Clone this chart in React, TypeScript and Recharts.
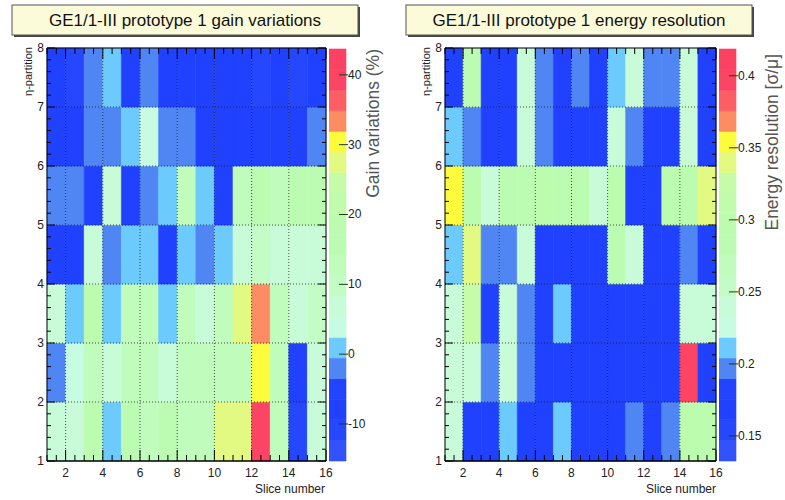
import React from "react";
import {
  ComposedChart,
  Scatter,
  XAxis,
  YAxis,
  ReferenceArea,
  ReferenceLine,
} from "recharts";

// slice numbers (x) and eta partitions (y), each cell spans [n, n+1]
const SLICES = [1, 2, 3, 4, 5, 6, 7, 8, 9, 10, 11, 12, 13, 14, 15];
const ETA = [1, 2, 3, 4, 5, 6, 7];

// gain variations (%), one array per eta partition, slices 1..15
const gainEta1 = [6, 7, 18, 1, 15, 14, 15, 14, 13, 27, 27.5, 40, 13, -10, 7];
const gainEta2 = [-2, 5, 12, 6, 13, 14, 6, 13, 14, 13, 14, 30.5, 12, -9, 6];
const gainEta3 = [6, 1, 18, 1, 14, 14, 1, 12, 6, 12, 27, 33, 13, 7, 11];
const gainEta4 = [-8, -9, 6, -2, 1, 1, -8, 1, -2, 1, 6, 10, 7, 6, 6];
const gainEta5 = [-2, -2, -8, 6, -8, -2, 1, 12, 1, -7, 14, 15, 14, 15, 16];
const gainEta6 = [-8, -9, -2, -3, 1, 5, -2, -2, -7, -8, -8, -9, -9, -8, -2];
const gainEta7 = [-9, -10, -2, 1, -8, -2, -8, -9, -8, -9, -9, -10, -9, -10, -9];

// energy resolution (sigma/mu), same layout
const resEta1 = [0.245, 0.17, 0.168, 0.21, 0.17, 0.17, 0.21, 0.17, 0.17, 0.172, 0.197, 0.17, 0.197, 0.29, 0.29];
const resEta2 = [0.235, 0.24, 0.197, 0.24, 0.197, 0.17, 0.168, 0.17, 0.17, 0.17, 0.172, 0.17, 0.17, 0.4, 0.17];
const resEta3 = [0.235, 0.32, 0.17, 0.238, 0.197, 0.17, 0.21, 0.17, 0.168, 0.17, 0.17, 0.172, 0.17, 0.235, 0.235];
const resEta4 = [0.21, 0.34, 0.197, 0.198, 0.235, 0.17, 0.17, 0.172, 0.17, 0.28, 0.24, 0.17, 0.17, 0.196, 0.172];
const resEta5 = [0.355, 0.29, 0.245, 0.28, 0.285, 0.29, 0.28, 0.29, 0.245, 0.3, 0.17, 0.172, 0.29, 0.3, 0.34];
const resEta6 = [0.21, 0.197, 0.17, 0.172, 0.238, 0.196, 0.17, 0.172, 0.17, 0.24, 0.197, 0.17, 0.17, 0.24, 0.172];
const resEta7 = [0.17, 0.28, 0.17, 0.175, 0.235, 0.197, 0.172, 0.196, 0.17, 0.21, 0.24, 0.196, 0.197, 0.238, 0.17];

const GAIN_ROWS = [gainEta1, gainEta2, gainEta3, gainEta4, gainEta5, gainEta6, gainEta7];
const RES_ROWS = [resEta1, resEta2, resEta3, resEta4, resEta5, resEta6, resEta7];

// axis ticks
const X_MINOR = [1, 1.5, 2, 2.5, 3, 3.5, 4, 4.5, 5, 5.5, 6, 6.5, 7, 7.5, 8, 8.5, 9, 9.5, 10, 10.5, 11, 11.5, 12, 12.5, 13, 13.5, 14, 14.5, 15, 15.5, 16];
const X_GRID = [2, 4, 6, 8, 10, 12, 14];
const Y_GRID = [2, 3, 4, 5, 6, 7];
const GAIN_TICKS = [-10, 0, 10, 20, 30, 40];
const RES_TICKS = [0.15, 0.2, 0.25, 0.3, 0.35, 0.4];

// z ranges of the two palettes
const GAIN_RANGE = [-15.3, 43.7];
const RES_RANGE = [0.1326, 0.4186];

// 20 contour colours, low -> high
const PALETTE = [
  "#3352ff", "#2548ff", "#2042ff", "#2244fe",
  "#4f86f4", "#6ccbfc",
  "#c6fce2", "#c8fcd8",
  "#c4fcc6", "#c0fcbc", "#bcfcb2", "#bcfcae", "#c0fcac", "#c6fca8",
  "#e2fa82", "#fcfc3c", "#fc8c62", "#fc5e64", "#fc4464", "#fc4262",
];

const FONT = "'Liberation Sans', Arial, Helvetica, sans-serif";
const PLOT_H = 413;

function colorOf(v: number, range: number[]) {
  const i = Math.floor(((v - range[0]) / (range[1] - range[0])) * 20);
  return PALETTE[Math.max(0, Math.min(19, i))];
}

function yMinorTicks() {
  const t: number[] = [];
  for (let i = 0; i <= 35; i++) t.push(Math.round((1 + i * 0.2) * 10) / 10);
  return t;
}

function HeatMap({ rows, range, width }: { rows: number[][]; range: number[]; width: number }) {
  const plotW = width - 47 - 14;
  const cells = rows.flatMap((row, r) =>
    row.map((v, s) => ({ x: SLICES[s], y: ETA[r], v }))
  );

  const XTick = (p: any) => {
    const v = p.payload.value;
    const major = v % 2 === 0;
    const len = major ? 11 : 6;
    return (
      <g>
        <line x1={p.x} y1={p.y} x2={p.x} y2={p.y - len} stroke="#000" />
        <line x1={p.x} y1={p.y - PLOT_H} x2={p.x} y2={p.y - PLOT_H + len} stroke="#000" />
        {major && (
          <text x={p.x} y={p.y + 16} textAnchor="middle" fontSize={12} fill="#222" fontFamily={FONT}>
            {v}
          </text>
        )}
      </g>
    );
  };

  const YTick = (p: any) => {
    const v = p.payload.value;
    const major = Number.isInteger(v);
    const len = major ? 8 : 4;
    return (
      <g>
        <line x1={p.x} y1={p.y} x2={p.x + len} y2={p.y} stroke="#000" />
        <line x1={p.x + plotW} y1={p.y} x2={p.x + plotW - len} y2={p.y} stroke="#000" />
        {major && (
          <text x={p.x - 3} y={p.y + 4} textAnchor="end" fontSize={12} fill="#222" fontFamily={FONT}>
            {v}
          </text>
        )}
      </g>
    );
  };

  return (
    <ComposedChart width={width} height={500} data={cells} margin={{ top: 48, right: 14, bottom: 0, left: 0 }}>
      <XAxis
        type="number"
        dataKey="x"
        domain={[1, 16]}
        allowDataOverflow
        ticks={X_MINOR}
        interval={0}
        tickSize={0}
        tickMargin={0}
        tickLine={false}
        tick={XTick}
        height={39}
        axisLine={{ stroke: "#000", strokeWidth: 1.5 }}
      />
      <YAxis
        type="number"
        dataKey="y"
        domain={[1, 8]}
        allowDataOverflow
        ticks={yMinorTicks()}
        interval={0}
        tickSize={0}
        tickMargin={0}
        tickLine={false}
        tick={YTick}
        width={47}
        axisLine={{ stroke: "#000" }}
      />
      {cells.map((c) => {
        const col = colorOf(c.v, range);
        return (
          <ReferenceArea
            key={`c-${c.x}-${c.y}`}
            x1={c.x}
            x2={c.x + 1}
            y1={c.y}
            y2={c.y + 1}
            fill={col}
            fillOpacity={1}
            stroke={col}
            strokeWidth={0.6}
            ifOverflow="visible"
          />
        );
      })}
      {X_GRID.map((x) => (
        <ReferenceLine key={`gx-${x}`} x={x} stroke="#222" strokeDasharray="1 2" strokeOpacity={0.8} />
      ))}
      {Y_GRID.map((y) => (
        <ReferenceLine key={`gy-${y}`} y={y} stroke="#222" strokeDasharray="1 2" strokeOpacity={0.8} />
      ))}
      <ReferenceLine y={8} stroke="#000" />
      <ReferenceLine x={16} stroke="#000" />
      <Scatter dataKey="y" fill="transparent" isAnimationActive={false} />
    </ComposedChart>
  );
}

function ColorBar({ range, ticks }: { range: number[]; ticks: number[] }) {
  const w = (range[1] - range[0]) / 20;
  const bands = PALETTE.map((c, i) => ({ y1: range[0] + i * w, y2: range[0] + (i + 1) * w, c }));

  const CTick = (p: any) => (
    <g>
      <line x1={p.x - 7} y1={p.y} x2={p.x + 2} y2={p.y} stroke="#1a3a1a" />
      <text x={p.x + 2} y={p.y + 4} fontSize={12} fill="#222" fontFamily={FONT}>
        {p.payload.value}
      </text>
    </g>
  );

  return (
    <ComposedChart
      width={60}
      height={500}
      data={[{ x: 0.5, y: range[0] }]}
      margin={{ top: 49, right: 0, bottom: 39, left: 0 }}
    >
      <XAxis type="number" dataKey="x" domain={[0, 1]} hide />
      <YAxis
        type="number"
        dataKey="y"
        orientation="right"
        domain={range}
        allowDataOverflow
        ticks={ticks}
        interval={0}
        tickSize={0}
        tickMargin={0}
        tickLine={false}
        axisLine={false}
        tick={CTick}
        width={43}
      />
      {bands.map((b, i) => (
        <ReferenceArea
          key={`b-${i}`}
          x1={0}
          x2={1}
          y1={b.y1}
          y2={b.y2}
          fill={b.c}
          fillOpacity={1}
          stroke={b.c}
          strokeWidth={0.6}
          ifOverflow="visible"
        />
      ))}
      <Scatter dataKey="y" fill="transparent" isAnimationActive={false} />
    </ComposedChart>
  );
}

function TitleBox({ x, w, text }: { x: number; w: number; text: string }) {
  return (
    <g>
      <rect x={x + 2} y={7} width={w} height={30} fill="#444" />
      <rect x={x} y={5} width={w} height={30} fill="#fbfbd9" stroke="#555" strokeWidth={1} />
      <text x={x + w / 2} y={26} textAnchor="middle" fontSize={17} fill="#111" fontFamily={FONT}>
        {text}
      </text>
    </g>
  );
}

export default function App() {
  return (
    <div style={{ position: "absolute", left: 0, top: 0, width: 785, height: 500, background: "#fff", fontFamily: FONT }}>
      <div style={{ position: "absolute", left: 0, top: 0 }}>
        <HeatMap rows={GAIN_ROWS} range={GAIN_RANGE} width={340} />
      </div>
      <div style={{ position: "absolute", left: 398, top: 0 }}>
        <HeatMap rows={RES_ROWS} range={RES_RANGE} width={332} />
      </div>
      <div style={{ position: "absolute", left: 329, top: 0 }}>
        <ColorBar range={GAIN_RANGE} ticks={GAIN_TICKS} />
      </div>
      <div style={{ position: "absolute", left: 719, top: 0 }}>
        <ColorBar range={RES_RANGE} ticks={RES_TICKS} />
      </div>
      <svg width={785} height={500} style={{ position: "absolute", left: 0, top: 0, pointerEvents: "none" }}>
        <TitleBox x={12} w={346} text="GE1/1-III prototype 1 gain variations" />
        <TitleBox x={406} w={346} text="GE1/1-III prototype 1 energy resolution" />
        <text transform="translate(32,47) rotate(-90)" textAnchor="end" fontSize={11} fill="#222" fontFamily={FONT}>
          η-partition
        </text>
        <text transform="translate(430,47) rotate(-90)" textAnchor="end" fontSize={11} fill="#222" fontFamily={FONT}>
          η-partition
        </text>
        <text x={325} y={493} textAnchor="end" fontSize={12} fill="#222" fontFamily={FONT}>
          Slice number
        </text>
        <text x={716} y={493} textAnchor="end" fontSize={12} fill="#222" fontFamily={FONT}>
          Slice number
        </text>
        <text transform="translate(379,49) rotate(-90)" textAnchor="end" fontSize={17.5} fill="#555" fontFamily={FONT}>
          Gain variations (%)
        </text>
        <text transform="translate(778,54) rotate(-90)" textAnchor="end" fontSize={17.5} fill="#555" fontFamily={FONT}>
          Energy resolution [σ/μ]
        </text>
      </svg>
    </div>
  );
}
